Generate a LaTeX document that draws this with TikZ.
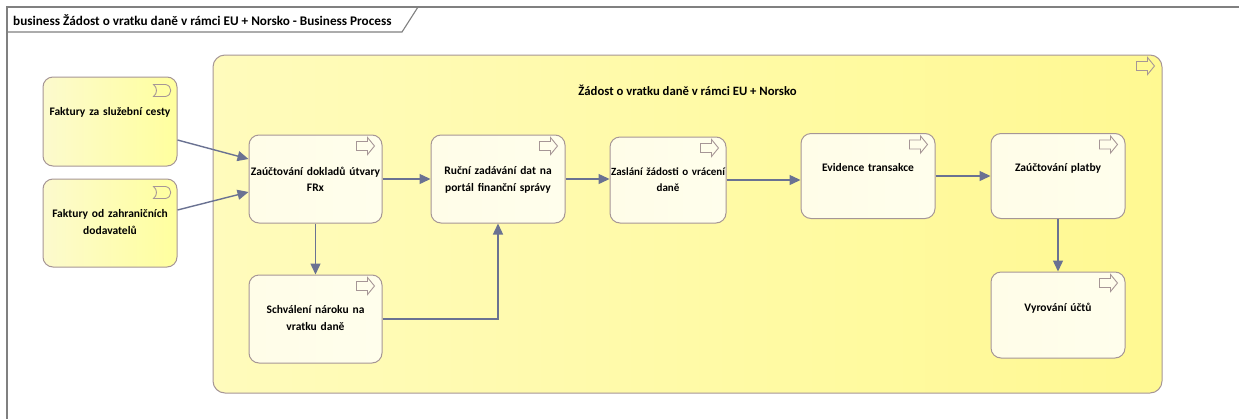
\documentclass[tikz,border=0pt]{standalone}
\usepackage{fontspec}
\setmainfont{Carlito}
\usetikzlibrary{arrows.meta,calc}
\definecolor{bordercol}{RGB}{166,150,150}
\definecolor{flowcol}{RGB}{106,114,146}
\definecolor{framecol}{RGB}{128,128,128}
\definecolor{evL}{RGB}{252,250,205}
\definecolor{evR}{RGB}{255,255,158}
\definecolor{ctL}{RGB}{255,251,188}
\definecolor{ctR}{RGB}{255,249,146}
\definecolor{prL}{RGB}{255,253,232}
\definecolor{prR}{RGB}{255,254,236}
\tikzset{
  x=1pt, y=-1pt,
  txt/.style={font=\fontsize{11.5}{16.5}\selectfont\bfseries, text=black, inner sep=0pt, align=center},
  bigtxt/.style={font=\fontsize{13.2}{16}\selectfont\bfseries, text=black, inner sep=0pt},
  evbox/.style={draw=bordercol, line width=1pt, rounded corners=10pt, left color=evL, right color=evR, minimum width=134pt, minimum height=89pt, inner sep=0pt},
  prbox/.style={draw=bordercol, line width=1pt, rounded corners=10pt, left color=prL, right color=prR, minimum width=134pt, minimum height=88pt, inner sep=0pt},
  ctbox/.style={draw=bordercol, line width=1pt, rounded corners=12pt, left color=ctL, right color=ctR, inner sep=0pt},
  icon/.style={draw=bordercol, line width=0.9pt, line join=miter},
  flow/.style={draw=flowcol, line width=1.4pt, -{Triangle[length=11pt,width=10pt]}},
}
\newcommand{\procicon}[1]{%
  \draw[icon, shift={(#1)}] (-26,7) -- (-15,7) -- (-15,3) -- (-8,11.5) -- (-15,20) -- (-15,16) -- (-26,16) -- cycle;}
\newcommand{\evicon}[1]{%
  \draw[icon, shift={(#1)}] (-24,8) -- (-12,8) .. controls (-5,9) and (-5,19) .. (-12,20) -- (-24,20) .. controls (-20,17) and (-20,11) .. (-24,8) -- cycle;}
\begin{document}
\begin{tikzpicture}
\useasboundingbox[fill=white] (0,0) rectangle (1239,418);
% frame
\draw[framecol, line width=1.3pt] (7,420) -- (7,7) -- (1241,7);
\draw[framecol, line width=1.1pt] (7,32) -- (402,32) -- (418,7);
\node[bigtxt, anchor=west] (title) at (13,20) {business Žádost o vratku daně v rámci EU + Norsko - Business Process};
% container
\node[ctbox, minimum width=949pt, minimum height=338pt] (ct) at (687.5,224) {};
\procicon{ct.north east}
\node[bigtxt, font=\fontsize{12.7}{16}\selectfont\bfseries] (cttitle) at (687.5,90) {Žádost o vratku daně v rámci EU + Norsko};
% events
\node[evbox] (L1) at (110,121.5) {};
\evicon{L1.north east}
\node[txt, anchor=north, text width=130pt] at ([yshift=-31pt]L1.north) {Faktury za služební cesty};
\node[evbox, minimum height=88pt] (L2) at (110,223) {};
\evicon{L2.north east}
\node[txt, anchor=north, text width=130pt] at ([yshift=-31pt]L2.north) {Faktury od zahraničních\\dodavatelů};
% processes
\node[prbox, minimum width=133pt] (A) at (315.5,179) {};
\node[prbox, minimum width=133pt] (B) at (315.5,319) {};
\node[prbox] (C) at (498,179) {};
\node[prbox, minimum width=116pt, minimum height=86pt] (D) at (668,180) {};
\node[prbox, minimum height=85pt] (E) at (868,176) {};
\node[prbox, minimum height=85pt] (F) at (1058,176) {};
\node[prbox, minimum height=86pt] (G) at (1058,315) {};
\foreach \n in {A,B,C,D,E,F,G} {\procicon{\n.north east}}
\node[txt, anchor=north, text width=140pt] at ([yshift=-32pt]A.north) {Zaúčtování dokladů útvary\\FRx};
\node[txt, anchor=north, text width=130pt] at ([yshift=-31pt]B.north) {Schválení nároku na\\vratku daně};
\node[txt, anchor=north, text width=130pt] at ([yshift=-32pt]C.north) {Ruční zadávání dat na\\portál finanční správy};
\node[txt, anchor=north, text width=130pt, font=\fontsize{11}{16.5}\selectfont\bfseries] at ([yshift=-31pt]D.north) {Zaslání žádosti o vrácení\\daně};
\node[txt, anchor=north, text width=130pt] at ([yshift=-30pt]E.north) {Evidence transakce};
\node[txt, anchor=north, text width=130pt] at ([yshift=-30pt]F.north) {Zaúčtování platby};
\node[txt, anchor=north, text width=130pt] at ([yshift=-31pt]G.north) {Vyrování účtů};
% connectors
\draw[flow] ([yshift=-18.5pt]L1.east) -- ([yshift=20pt]A.west);
\draw[flow] ([yshift=13pt]L2.east) -- ([yshift=-13pt]A.west);
\draw[flow] (A.east) -- (A.east -| C.west);
\draw[flow] (A.south) -- (B.north);
\draw[flow] (B.east) -| (C.south);
\draw[flow] (C.east) -- (C.east -| D.west);
\draw[flow] (D.east) -- (D.east -| E.west);
\draw[flow] (E.east) -- (F.west);
\draw[flow] (F.south) -- (G.north);
\end{tikzpicture}
\end{document}
